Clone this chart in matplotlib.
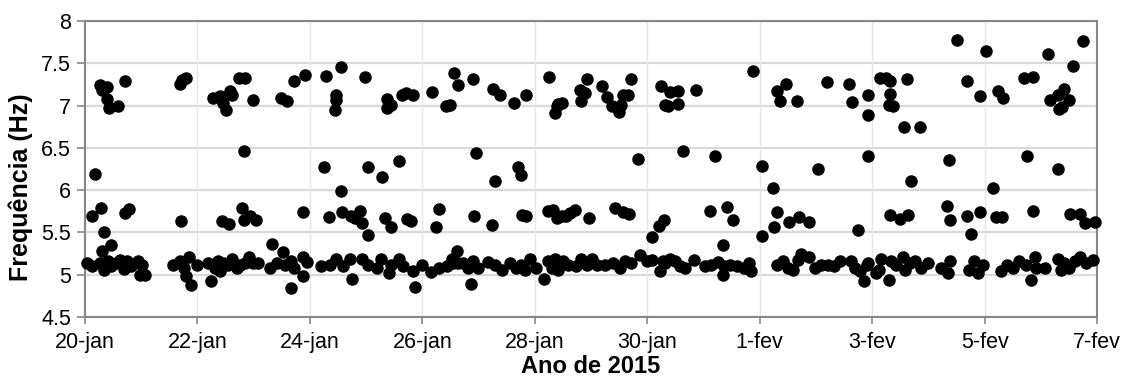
import numpy as np
import matplotlib
matplotlib.use('Agg')
import matplotlib.pyplot as plt

# dias contados a partir de 20-jan-2015
dias_alta = [0.27, 0.30, 0.39, 0.39, 0.43, 0.59, 0.72, 1.69, 1.72, 1.79, 2.27, 2.40, 2.45, 2.51,
             2.58, 2.62, 2.74, 2.84, 2.99, 3.48, 3.59, 3.72, 3.91, 4.29, 4.55, 4.46, 4.46, 4.45,
             4.98, 5.37, 5.37, 5.45, 5.63, 5.71, 5.84, 6.18, 6.42, 6.50, 6.56, 6.64, 6.90, 7.25,
             7.38, 7.63, 7.84, 8.25, 8.36, 8.39, 8.42, 8.48, 8.80, 8.83, 8.89, 8.92, 9.20, 9.28,
             9.37, 9.50, 9.54, 9.57, 9.65, 9.71, 10.24, 10.31, 10.40, 10.37, 10.54, 10.54, 10.87,
             11.89, 12.31, 12.46, 12.37, 12.67, 13.20, 13.58, 13.64, 13.93, 13.93, 14.14, 14.24,
             14.32, 14.32, 14.30, 14.38, 14.62, 14.57, 14.86, 15.51, 16.03, 15.68, 15.92, 16.23,
             16.33, 16.71, 16.86, 17.13, 17.57, 17.75, 17.16, 17.31, 17.41, 17.50, 17.32, 17.38]
freq_alta = [7.24, 7.18, 7.22, 7.08, 6.97, 6.99, 7.29, 7.25, 7.30, 7.33, 7.09, 7.11, 7.03, 6.95,
             7.17, 7.12, 7.33, 7.33, 7.07, 7.09, 7.05, 7.29, 7.36, 7.35, 7.46, 7.13, 7.07, 6.95,
             7.34, 7.08, 6.97, 7.01, 7.12, 7.15, 7.12, 7.16, 6.99, 7.01, 7.38, 7.24, 7.31, 7.20,
             7.13, 7.03, 7.13, 7.34, 6.91, 6.99, 7.02, 7.03, 7.18, 7.05, 7.15, 7.31, 7.23, 7.10,
             6.99, 6.93, 7.01, 7.13, 7.12, 7.31, 7.23, 7.01, 7.16, 7.00, 7.17, 7.02, 7.18,
             7.41, 7.17, 7.25, 7.05, 7.06, 7.28, 7.26, 7.04, 7.12, 6.89, 7.33, 7.33,
             7.29, 7.14, 7.01, 7.00, 7.31, 6.75, 6.75, 7.77, 7.64, 7.29, 7.11, 7.17,
             7.09, 7.33, 7.34, 7.61, 7.47, 7.76, 7.07, 7.13, 7.20, 7.07, 6.96, 6.98]

dias_media = [2.83, 0.18, 0.13, 0.28, 0.33, 0.31, 0.46, 0.71, 0.79, 1.70, 2.43, 2.57, 2.80, 2.83,
              2.93, 4.25, 4.55, 5.04, 5.29, 5.58, 3.05, 3.88, 4.34, 4.57, 4.73, 4.80, 4.89, 4.92,
              5.04, 5.33, 5.45, 5.73, 5.79, 6.24, 6.29, 6.95, 7.29, 7.70, 7.75, 9.84, 6.92, 7.24,
              7.78, 7.85, 8.24, 8.33, 8.39, 8.48, 8.56, 8.63, 8.71, 8.96, 9.43, 9.57, 9.67, 10.08,
              10.21, 10.30, 10.63, 11.20, 12.04, 13.04, 13.93, 12.24, 11.12, 11.41, 11.53, 11.34,
              12.04, 12.25, 12.31, 12.53, 12.70, 12.87, 13.75, 14.70, 15.37, 16.15, 16.75, 17.31,
              14.31, 14.49, 14.64, 15.34, 15.38, 15.69, 15.75, 15.92, 16.21, 16.31, 16.86, 17.52,
              17.69, 17.79, 17.97]
freq_media = [6.46, 6.19, 5.70, 5.79, 5.50, 5.28, 5.35, 5.73, 5.78, 5.64, 5.63, 5.60, 5.79, 5.65,
              5.69, 6.27, 5.99, 6.27, 6.16, 6.35, 5.65, 5.74, 5.68, 5.74, 5.70, 5.67, 5.75, 5.61,
              5.47, 5.67, 5.57, 5.66, 5.63, 5.56, 5.78, 6.44, 6.11, 6.27, 6.18, 6.37, 5.69, 5.59,
              5.71, 5.69, 5.75, 5.77, 5.67, 5.69, 5.70, 5.73, 5.76, 5.67, 5.79, 5.74, 5.72, 5.45,
              5.58, 5.65, 6.46, 6.40, 6.29, 6.25, 6.40, 6.02, 5.75, 5.80, 5.65, 5.35,
              5.46, 5.57, 5.74, 5.62, 5.68, 5.62, 5.53, 6.11, 6.36, 6.03, 6.40, 6.25,
              5.71, 5.66, 5.71, 5.81, 5.65, 5.69, 5.48, 5.74, 5.68, 5.68, 5.75, 5.72,
              5.72, 5.61, 5.62]

dias_base = [0.03, 0.13, 0.27, 0.34, 0.41, 0.47, 0.56, 0.62, 0.69, 0.75, 0.81, 0.95, 1.01, 0.98,
             1.07, 1.56, 1.69, 1.77, 1.79, 1.85, 1.88, 1.99, 2.19, 2.25, 2.31, 2.37, 2.40, 2.46,
             2.55, 2.62, 2.70, 2.76, 2.84, 2.92, 2.99, 3.33, 3.08, 3.29, 3.41, 3.53, 3.56, 3.67,
             3.72, 3.67, 3.88, 3.88, 3.94, 4.19, 4.35, 4.47, 4.59, 4.71, 4.75, 4.92, 5.04, 5.20,
             5.27, 5.40, 5.45, 5.58, 5.66, 5.84, 5.87, 5.99, 6.16, 6.29, 6.43, 6.52, 6.61, 6.64,
             6.55, 6.73, 6.81, 6.87, 6.90, 6.99, 7.17, 7.29, 7.41, 7.56, 7.67, 7.76, 7.82, 7.91,
             8.03, 8.17, 8.24, 8.30, 8.36, 8.42, 8.50, 8.59, 8.74, 8.83, 8.92, 9.01, 9.10, 9.25,
             9.39, 9.51, 9.60, 9.72, 9.87, 9.99, 10.08, 10.23, 10.28, 10.31, 10.40, 10.49, 10.58,
             10.67, 10.83, 11.02, 11.14, 11.26, 11.35, 11.37, 11.47, 11.59, 11.73, 11.81, 11.85,
             12.30, 12.42, 12.50, 12.59, 12.68, 12.74, 12.87, 12.98, 13.09, 13.22, 13.32, 13.42,
             13.63, 13.69, 13.78, 13.85, 13.93, 13.91, 14.07, 14.13, 14.16, 14.30, 14.34, 14.43,
             14.55, 14.58, 14.67, 14.76, 14.87, 14.99, 15.23, 15.35, 15.39, 15.73, 15.82, 15.88,
             15.98, 16.30, 16.39, 16.51, 16.62, 16.74, 16.83, 16.89, 16.92, 17.07, 17.31, 17.36,
             17.42, 17.51, 17.60, 17.70, 17.81, 17.93]
freq_base = [5.14, 5.10, 5.14, 5.06, 5.16, 5.10, 5.14, 5.17, 5.07, 5.16, 5.10, 5.16, 5.11, 5.00,
             5.00, 5.12, 5.16, 5.08, 4.98, 5.21, 4.88, 5.12, 5.14, 4.92, 5.08, 5.16, 5.04, 5.14,
             5.12, 5.19, 5.08, 5.12, 5.14, 5.21, 5.14, 5.36, 5.14, 5.08, 5.14, 5.27, 5.12, 5.16,
             5.08, 4.84, 4.98, 5.21, 5.15, 5.10, 5.12, 5.19, 5.10, 5.18, 4.95, 5.18, 5.12, 5.08,
             5.18, 5.02, 5.12, 5.18, 5.10, 5.04, 4.86, 5.12, 5.03, 5.08, 5.10, 5.18, 5.28, 5.14,
             5.14, 5.14, 5.08, 4.89, 5.16, 5.08, 5.15, 5.12, 5.06, 5.14, 5.08, 5.12, 5.06, 5.18,
             5.08, 4.95, 5.16, 5.08, 5.18, 5.06, 5.16, 5.12, 5.10, 5.18, 5.12, 5.19, 5.12, 5.12,
             5.14, 5.08, 5.16, 5.14, 5.23, 5.16, 5.17, 5.04, 5.16, 5.14, 5.19, 5.16, 5.10,
             5.08, 5.17, 5.10, 5.12, 5.15, 5.00, 5.10, 5.12, 5.10, 5.08, 5.14, 5.04,
             5.12, 5.16, 5.08, 5.06, 5.17, 5.25, 5.21, 5.08, 5.12, 5.12, 5.10, 5.16,
             5.16, 5.08, 5.04, 4.93, 5.14, 5.12, 5.02, 5.06, 5.18, 4.94, 5.16, 5.12,
             5.21, 5.06, 5.14, 5.16, 5.08, 5.14, 5.08, 5.02, 5.16, 5.06, 5.16, 5.02,
             5.12, 5.04, 5.12, 5.08, 5.16, 5.12, 4.94, 5.21, 5.08, 5.08, 5.19, 5.06,
             5.14, 5.08, 5.16, 5.21, 5.14, 5.17]

x_ticks = [0, 2, 4, 6, 8, 10, 12, 14, 16, 18]
x_labels = ['20-jan', '22-jan', '24-jan', '26-jan', '28-jan', '30-jan', '1-fev', '3-fev', '5-fev', '7-fev']
y_ticks = [4.5, 5, 5.5, 6, 6.5, 7, 7.5, 8]
y_labels = ['4.5', '5', '5.5', '6', '6.5', '7', '7.5', '8']

plt.rcParams['font.family'] = ['Liberation Sans', 'DejaVu Sans']

fig = plt.figure(figsize=(11.24, 3.78), dpi=100)
ax = fig.add_axes([0.0756, 0.1614, 0.9004, 0.783])

for dx, fy in [(dias_alta, freq_alta), (dias_media, freq_media), (dias_base, freq_base)]:
    ax.plot(dx, fy, 'o', color='black', markersize=8, zorder=3, clip_on=False)

ax.set_xlim(0, 18)
ax.set_ylim(4.5, 8)
ax.set_xticks(x_ticks)
ax.set_xticklabels(x_labels, fontsize=15.5)
ax.set_yticks(y_ticks)
ax.set_yticklabels(y_labels, fontsize=15.5)

for y in y_ticks:
    ax.axhline(y, color='#d9d9d9', lw=1.6, zorder=1)
for x in x_ticks:
    ax.axvline(x, color='#e6e6e6', lw=1.0, zorder=1)

for s in ax.spines.values():
    s.set_color('#868686')
    s.set_linewidth(1.5)
    s.set_zorder(2)
ax.tick_params(axis='y', direction='out', length=6, width=1.2, color='#868686', pad=4)
ax.tick_params(axis='x', direction='out', length=5, width=1.2, color='#868686', pad=6)

ax.set_xlabel('Ano de 2015', fontsize=17, fontweight='bold', labelpad=1)
ax.set_ylabel('Frequência (Hz)', fontsize=18, fontweight='bold')
ax.yaxis.set_label_coords(-0.051, 0.44)

plt.savefig('out.png', dpi=100)
plt.close()
